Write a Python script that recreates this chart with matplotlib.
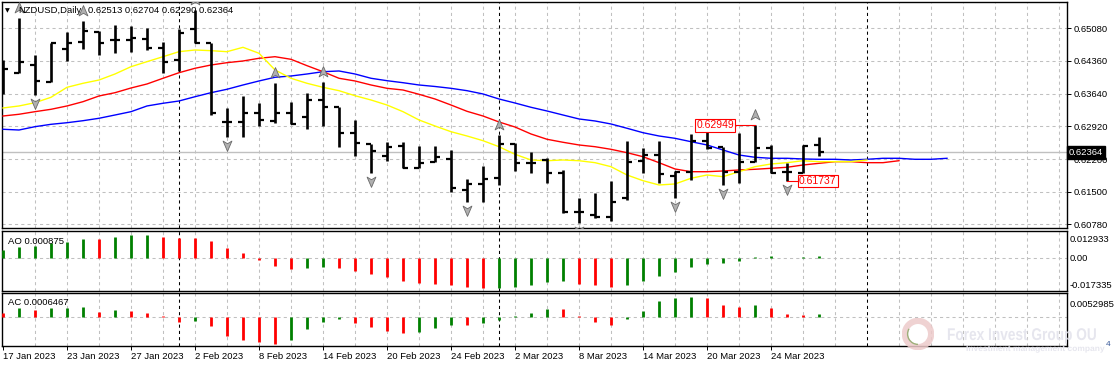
import numpy as np
import pandas as pd
import matplotlib
matplotlib.use("Agg")
import matplotlib.pyplot as plt
from matplotlib import transforms
from matplotlib.patches import Circle, Arc, PathPatch
from matplotlib.path import Path
from matplotlib.textpath import TextPath
from matplotlib.font_manager import FontProperties

plt.rcParams["font.family"] = ["Liberation Sans", "DejaVu Sans"]

# --- data: NZDUSD daily, 17 Jan 2023 .. 29 Mar 2023 ---
dates = pd.bdate_range("2023-01-17", "2023-03-29")

opens = [0.64122, 0.64106, 0.64275, 0.63909, 0.64626, 0.64786, 0.65005, 0.64823, 0.64823, 0.64845,
         0.64641, 0.64385, 0.65058, 0.64751, 0.63032, 0.63032, 0.63217, 0.63054, 0.63230, 0.63129,
         0.63508, 0.63348, 0.62778, 0.62537, 0.62287, 0.62500, 0.62024, 0.62156, 0.62208, 0.61535,
         0.61660, 0.61805, 0.62537, 0.62120, 0.62193, 0.61901, 0.61046, 0.60987, 0.60950, 0.61353,
         0.62177, 0.62302, 0.61849, 0.61936, 0.62616, 0.62471, 0.61936, 0.62156, 0.62449, 0.61923,
         0.61914, 0.62513]
highs = [0.64385, 0.65299, 0.64494, 0.64764, 0.64992, 0.65246, 0.65027, 0.65152, 0.65137, 0.65080,
         0.64786, 0.65058, 0.65481, 0.64764, 0.63326, 0.63596, 0.63449, 0.63874, 0.63458, 0.63655,
         0.63909, 0.63361, 0.63070, 0.62544, 0.62594, 0.62594, 0.62500, 0.62500, 0.62412, 0.61770,
         0.62061, 0.62741, 0.62559, 0.62375, 0.62230, 0.61974, 0.61353, 0.61476, 0.61739, 0.62616,
         0.62449, 0.62616, 0.61952, 0.62763, 0.62835, 0.62484, 0.62791, 0.62949, 0.62522, 0.62120,
         0.62522, 0.62704]
lows = [0.63640, 0.64100, 0.63618, 0.63900, 0.64370, 0.64626, 0.64494, 0.64545, 0.64567, 0.64604,
        0.64106, 0.64144, 0.64751, 0.63179, 0.62690, 0.62704, 0.62938, 0.62997, 0.62982, 0.62866,
        0.62938, 0.62484, 0.62287, 0.61901, 0.62177, 0.62011, 0.62011, 0.62149, 0.61485, 0.61279,
        0.61279, 0.61645, 0.61958, 0.61901, 0.61695, 0.61024, 0.60805, 0.60915, 0.60862, 0.61316,
        0.61901, 0.61695, 0.61360, 0.61754, 0.62427, 0.61645, 0.61695, 0.62150, 0.61901, 0.61737,
        0.61905, 0.62290]
closes = [0.64188, 0.64348, 0.63931, 0.64751, 0.64764, 0.65027, 0.64764, 0.64823, 0.64861, 0.64641,
          0.64348, 0.64970, 0.64760, 0.63217, 0.63032, 0.63230, 0.63070, 0.63230, 0.62990, 0.63508,
          0.63361, 0.62791, 0.62572, 0.62397, 0.62484, 0.62024, 0.62134, 0.62252, 0.61572, 0.61660,
          0.61776, 0.62537, 0.62134, 0.62120, 0.61914, 0.61046, 0.61046, 0.60950, 0.61279, 0.62156,
          0.62302, 0.61886, 0.61936, 0.62609, 0.62449, 0.61936, 0.62156, 0.62449, 0.61914, 0.61923,
          0.62506, 0.62364]

# Alligator lines (jaw shifted 8, teeth 5, lips 3 bars ahead)
jaw = [0.62866, 0.62850, 0.62923, 0.62975, 0.63010, 0.63054, 0.63107, 0.63179, 0.63252, 0.63377,
       0.63436, 0.63486, 0.63580, 0.63668, 0.63743, 0.63837, 0.63925, 0.64006, 0.64034, 0.64078,
       0.64128, 0.64144, 0.64078, 0.63984, 0.63931, 0.63887, 0.63837, 0.63804, 0.63764, 0.63712,
       0.63640, 0.63530, 0.63442, 0.63348, 0.63267, 0.63179, 0.63092, 0.63048, 0.62982, 0.62888,
       0.62791, 0.62719, 0.62668, 0.62594, 0.62522, 0.62412, 0.62302, 0.62252, 0.62230, 0.62230,
       0.62215, 0.62208, 0.62208, 0.62193, 0.62208, 0.62230, 0.62230, 0.62208, 0.62208, 0.62230]
teeth = [0.63157, 0.63195, 0.63252, 0.63304, 0.63377, 0.63471, 0.63596, 0.63668, 0.63771, 0.63859,
         0.63984, 0.64106, 0.64203, 0.64275, 0.64326, 0.64363, 0.64422, 0.64457, 0.64400, 0.64260,
         0.64128, 0.63984, 0.63925, 0.63837, 0.63764, 0.63727, 0.63633, 0.63530, 0.63398, 0.63260,
         0.63157, 0.63026, 0.62916, 0.62763, 0.62647, 0.62581, 0.62522, 0.62484, 0.62427, 0.62353,
         0.62265, 0.62134, 0.61996, 0.61936, 0.61936, 0.61952, 0.61974, 0.61989, 0.62011, 0.62033,
         0.62083, 0.62120, 0.62156, 0.62156, 0.62134, 0.62134, 0.62177]
lips = [0.63333, 0.63377, 0.63449, 0.63567, 0.63786, 0.63874, 0.63946, 0.64078, 0.64238, 0.64348,
        0.64457, 0.64567, 0.64604, 0.64589, 0.64567, 0.64663, 0.64532, 0.64166, 0.63984, 0.63874,
        0.63786, 0.63712, 0.63602, 0.63508, 0.63398, 0.63252, 0.63070, 0.62938, 0.62813, 0.62719,
        0.62616, 0.62484, 0.62318, 0.62193, 0.62177, 0.62193, 0.62177, 0.62134, 0.62046, 0.61864,
        0.61739, 0.61645, 0.61667, 0.61792, 0.61864, 0.61827, 0.61936, 0.62046, 0.62105, 0.62134,
        0.62177, 0.62156, 0.62156, 0.62156, 0.62193]

ao = [0.00376, 0.00547, 0.00599, 0.00718, 0.00804, 0.00960, 0.00940, 0.01043, 0.01146, 0.01150,
      0.01060, 0.01009, 0.00995, 0.00838, 0.00496, 0.00239, -0.00137, -0.00445, -0.00599, -0.00530,
      -0.00496, -0.00530, -0.00701, -0.00855, -0.01009, -0.01197, -0.01317, -0.01368, -0.01419, -0.01522,
      -0.01556, -0.01530, -0.01510, -0.01419, -0.01248, -0.01214, -0.01334, -0.01419, -0.01522, -0.01419,
      -0.01214, -0.00958, -0.00752, -0.00496, -0.00342, -0.00291, -0.00188, 0.00040, 0.00060, -0.00030,
      0.00010, 0.000875]
ac = [0.00082, 0.00187, 0.00157, 0.00187, 0.00201, 0.00224, 0.00112, 0.00157, 0.00134, 0.00090,
      0.00022, -0.00112, -0.00105, -0.00216, -0.00425, -0.00515, -0.00574, -0.00619, -0.00515, -0.00283,
      -0.00112, -0.00052, -0.00134, -0.00239, -0.00313, -0.00373, -0.00336, -0.00261, -0.00179, -0.00185,
      -0.00149, -0.00082, 0.00015, 0.00082, 0.00179, 0.00172, 0.00005, -0.00127, -0.00194, -0.00060,
      0.00134, 0.00358, 0.00410, 0.00448, 0.00410, 0.00269, 0.00209, 0.00269, 0.00187, 0.00052,
      0.00045, 0.0006467]
ao_first_up = True
ac_first_up = False

fractal_up = [1, 5, 12, 17, 20, 31, 47]
fractal_down = [2, 14, 23, 29, 36, 42, 45, 49]

price_ticks = [0.65080, 0.64363, 0.63647, 0.62930, 0.62213, 0.61497, 0.60780]
price_labels = ["0.65080", "0.64360", "0.63640", "0.62920", "0.62200", "0.61500", "0.60780"]
ao_labels = ["0.012933", "0.00", "-0.017335"]
ac_labels = ["0.0052985"]

# --- layout (pixel based, MT4 look) ---
W, H = 1114, 367
fig = plt.figure(figsize=(W / 100, H / 100), dpi=100)
fig.patch.set_facecolor("white")


def panel(top, bottom):
    return fig.add_axes([2 / W, 1 - bottom / H, 1065 / W, (bottom - top) / H])


ax = panel(2, 228)
ax_ao = panel(231, 290.5)
ax_ac = panel(293, 346)
axes = [ax, ax_ao, ax_ac]

n_future = 67
full = pd.bdate_range(dates[0], periods=n_future)
xlim = (-1 / 16, 1064 / 16)
GRID = "#C0C0C0"
FS = 6.8

month_sep = [i for i in range(1, n_future) if full[i].month != full[i - 1].month]

for a in axes:
    a.set_xlim(*xlim)
    for s in a.spines.values():
        s.set_color("black")
        s.set_linewidth(1.0)
    for gx in range(2, n_future, 2):
        if gx in month_sep:
            continue
        a.axvline(gx, color=GRID, lw=0.75, ls=(0, (3, 3)), zorder=0)
    for sx in month_sep:
        a.axvline(sx, color="black", lw=0.75, ls=(0, (3, 3)), zorder=1)
    a.yaxis.tick_right()
    a.tick_params(axis="y", labelsize=FS, length=3, width=0.7, pad=2, colors="black")
    a.tick_params(axis="x", labelbottom=False, length=0)

# --- main price panel ---
ax.set_ylim(0.60702, 0.65656)
ax.set_yticks(price_ticks, price_labels)
for py in price_ticks:
    ax.axhline(py, color=GRID, lw=0.75, ls=(0, (3, 3)), zorder=0)
ax.axhline(closes[-1], color="#C0C0C0", lw=1.0, zorder=1)

x = np.arange(len(opens))
ax.vlines(x, lows, highs, color="black", lw=1.9, zorder=4)
ax.hlines(opens, x - 0.33, x, color="black", lw=1.6, zorder=4)
ax.hlines(closes, x, x + 0.33, color="black", lw=1.6, zorder=4)

ax.plot(np.arange(len(jaw)), jaw, color="#0000FF", lw=1.0, zorder=3)
ax.plot(np.arange(len(teeth)), teeth, color="#FF0000", lw=1.0, zorder=3)
ax.plot(np.arange(len(lips)), lips, color="#FFFF00", lw=1.0, zorder=3)

# fractal arrows (arrow-head markers)
arrow_up = Path([(0, 1), (0.75, -0.75), (0, -0.3), (-0.75, -0.75), (0, 1)],
                [Path.MOVETO, Path.LINETO, Path.LINETO, Path.LINETO, Path.CLOSEPOLY])
arrow_dn = Path([(0, -1), (0.75, 0.75), (0, 0.3), (-0.75, 0.75), (0, -1)],
                [Path.MOVETO, Path.LINETO, Path.LINETO, Path.LINETO, Path.CLOSEPOLY])
up_off = transforms.offset_copy(ax.transData, fig=fig, x=0, y=7.3, units="points")
dn_off = transforms.offset_copy(ax.transData, fig=fig, x=0, y=-5.8, units="points")
ax.plot(fractal_up, [highs[i] for i in fractal_up], ls="none", marker=arrow_up, ms=8.5,
        mfc="#B0B0B0", mec="#6A6A6A", mew=0.6, transform=up_off, zorder=5)
ax.plot(fractal_down, [lows[i] for i in fractal_down], ls="none", marker=arrow_dn, ms=8.5,
        mfc="#B0B0B0", mec="#6A6A6A", mew=0.6, transform=dn_off, zorder=5)

# swing high / low labels
hi_i = int(np.argmax(highs[40:])) + 40
lo_i = 49
ax.plot([hi_i - 1.25, hi_i], [highs[hi_i]] * 2, color="#FF0000", lw=0.8, zorder=5)
ax.text(hi_i - 1.3, highs[hi_i], f"{highs[hi_i]:.5f}", color="#FF0000", fontsize=7.5,
        ha="right", va="center", zorder=6,
        bbox=dict(boxstyle="square,pad=0.1", fc="white", ec="#FF0000", lw=0.8))
ax.plot([lo_i, lo_i + 0.7], [lows[lo_i]] * 2, color="#FF0000", lw=0.8, zorder=5)
ax.text(lo_i + 0.75, lows[lo_i], f"{lows[lo_i]:.5f}", color="#FF0000", fontsize=7.5,
        ha="left", va="center", zorder=6,
        bbox=dict(boxstyle="square,pad=0.1", fc="white", ec="#FF0000", lw=0.8))

# current price tag on the scale
ax.text(1.0015, closes[-1], f"{closes[-1]:.5f}", transform=ax.get_yaxis_transform(),
        color="white", fontsize=FS, ha="left", va="center", clip_on=False, zorder=10,
        bbox=dict(boxstyle="square,pad=0.2", fc="black", ec="black"))

# title
fig.text(5 / W, 1 - 10.5 / H, "\u25BC", fontsize=4.5, va="center", ha="left",
         family=["DejaVu Sans"])
fig.text(18 / W, 1 - 10.5 / H, "NZDUSD,Daily", fontsize=FS, va="center", ha="left")
fig.text(88 / W, 1 - 10.5 / H,
         f"{opens[-1]:.5f} {highs[-1]:.5f} {lows[-1]:.5f} {closes[-1]:.5f}",
         fontsize=FS, va="center", ha="left")

# --- AO panel ---
GREEN, RED = "#008000", "#FF0000"


def hist_colors(vals, first_up):
    d = np.diff(vals)
    return [GREEN if first_up else RED] + [GREEN if v > 0 else RED for v in d]


ax_ao.set_ylim(-0.0168, 0.0135)
ax_ao.axhline(0, color=GRID, lw=0.75, ls=(0, (3, 3)), zorder=0)
ax_ao.vlines(x, 0, ao, colors=hist_colors(ao, ao_first_up), lw=2.0, zorder=3)
ax_ao.set_yticks([0.0097, 0.0, -0.0139], ao_labels)
ax_ao.tick_params(axis="y", length=0)
ax_ao.text(6 / 1065, 0.83, f"AO {ao[-1]:.6f}", transform=ax_ao.transAxes,
           fontsize=FS, ha="left", va="center")

# --- AC panel ---
ax_ac.set_ylim(-0.0066, 0.0053)
ax_ac.axhline(0, color=GRID, lw=0.75, ls=(0, (3, 3)), zorder=0)
ax_ac.vlines(x, 0, ac, colors=hist_colors(ac, ac_first_up), lw=2.0, zorder=3)
ax_ac.set_yticks([0.0029], ac_labels)
ax_ac.tick_params(axis="y", length=0)
ax_ac.text(6 / 1065, 0.82, f"AC {ac[-1]:.7f}", transform=ax_ac.transAxes,
           fontsize=FS, ha="left", va="center")

tick_idx = list(range(0, len(dates), 4))
ax_ac.set_xticks(tick_idx, [f"{dates[i].day} {dates[i]:%b %Y}" for i in tick_idx])
ax_ac.tick_params(axis="x", labelbottom=True, length=3, width=0.7, pad=1.5, labelsize=FS)
for lab in ax_ac.get_xticklabels():
    lab.set_ha("left")

# watermark (logo + condensed lettering)
logo = fig.add_axes([902 / W, 1 - 350 / H, 32 / W, 32 / H])
logo.set_xlim(-1, 1)
logo.set_ylim(-1, 1)
logo.axis("off")
logo.add_patch(Circle((0, 0), 0.82, fc="none", ec="#EDCACA", lw=4.5, alpha=0.85))
logo.add_patch(Arc((0, 0), 1.3, 1.3, theta1=150, theta2=270, color="#9DB07A", lw=1.0))

wm = TextPath((0, 0), "Forex Invest Group OU", size=17,
              prop=FontProperties(family="Liberation Sans", weight="bold"))
ext = wm.get_extents()
sx = 148 / ext.width
wm_tr = transforms.Affine2D().scale(sx, 1.0).translate(947, H - 340)
fig.add_artist(PathPatch(wm, transform=wm_tr, fc="#E6E6EE", ec="none", zorder=20))
sub = TextPath((0, 0), "Investment management company", size=8,
               prop=FontProperties(family="Liberation Sans", weight="bold"))
sx2 = 138 / sub.get_extents().width
sub_tr = transforms.Affine2D().scale(sx2, 1.0).translate(966, H - 351)
fig.add_artist(PathPatch(sub, transform=sub_tr, fc="#E6E6EE", ec="none", zorder=20))
fig.text(1106 / W, 1 - 344 / H, "4", fontsize=6, color="#3A5A9A", va="center", ha="left")

fig.savefig("out.png", dpi=100, facecolor="white")
